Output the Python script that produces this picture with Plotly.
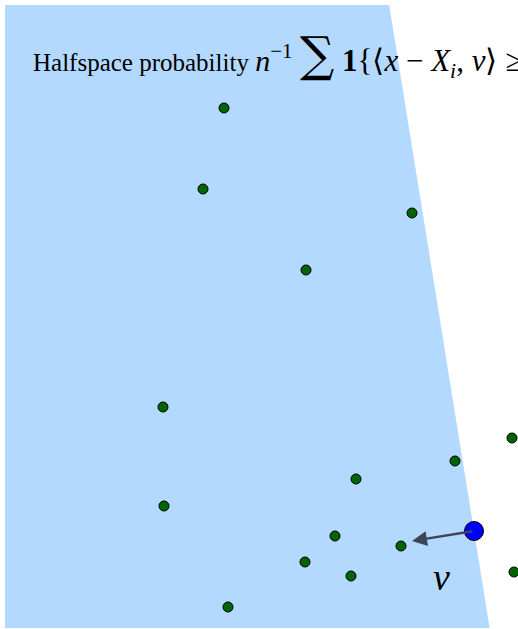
import plotly.graph_objects as go

# Sample points X_i
pts_x = [2.24, 2.03, 4.12, 3.06, 1.63, 5.12, 4.55, 3.56, 1.64, 3.35, 4.01, 3.05, 3.51, 5.14, 2.28]
pts_y = [5.21, 4.40, 4.16, 3.59, 2.22, 1.91, 1.68, 1.50, 1.23, 0.93, 0.83, 0.67, 0.53, 0.57, 0.22]

# Query point x and direction v
query_x, query_y = 4.74, 0.98
v_dir = [-0.62, -0.10]

# Bounding box of the shaded region
box_left, box_bottom, box_top = 0.05, 0.01, 6.24

def boundary_x(y):
    # x on the line <z - x, v> = 0 at height y
    return query_x - (v_dir[1] / v_dir[0]) * (y - query_y)

poly_x = [box_left, boundary_x(box_top), boundary_x(box_bottom), box_left, box_left]
poly_y = [box_top, box_top, box_bottom, box_bottom, box_top]

fig = go.Figure()
fig.add_trace(go.Scatter(
    x=poly_x, y=poly_y, mode="lines", fill="toself",
    fillcolor="rgb(179,217,255)", line=dict(width=0), hoverinfo="skip",
))
fig.add_trace(go.Scatter(
    x=pts_x, y=pts_y, mode="markers",
    marker=dict(size=10, color="#006400", line=dict(color="black", width=1)),
))

# Arrow for v
fig.add_annotation(
    x=query_x + v_dir[0], y=query_y + v_dir[1], ax=query_x, ay=query_y,
    xref="x", yref="y", axref="x", ayref="y", text="",
    showarrow=True, arrowhead=2, arrowsize=1.2, arrowwidth=2.5,
    arrowcolor="#3d4656",
)
fig.add_trace(go.Scatter(
    x=[query_x], y=[query_y], mode="markers",
    marker=dict(size=19, color="#0000ff", line=dict(color="black", width=1)),
))

fig.add_annotation(
    x=4.41, y=0.52, xref="x", yref="y", text="<i>v</i>", showarrow=False,
    font=dict(family="Liberation Serif", size=38, color="black"),
)

title = ("Halfspace probability "
         "<span style='font-size:30px'><i>n</i><sup>−1</sup> </span>"
         "<span style='font-size:48px;font-family:DejaVu Serif'>∑</span>"
         "<span style='font-size:31px'> <b>1</b>{⟨<i>x</i> − <i>X</i><sub><i>i</i></sub>, "
         "<i>v</i>⟩ ≥ 0}</span>")
fig.add_annotation(
    x=0.31, y=5.75, xref="x", yref="y", text=title, showarrow=False,
    xanchor="left", yanchor="middle",
    font=dict(family="Liberation Serif", size=25, color="black"),
)

fig.update_xaxes(range=[0, 5.18], visible=False)
fig.update_yaxes(range=[0, 6.29], visible=False)
fig.update_layout(
    width=518, height=629, margin=dict(l=0, r=0, t=0, b=0),
    plot_bgcolor="white", paper_bgcolor="white", showlegend=False,
)
fig.write_html("out.html")
